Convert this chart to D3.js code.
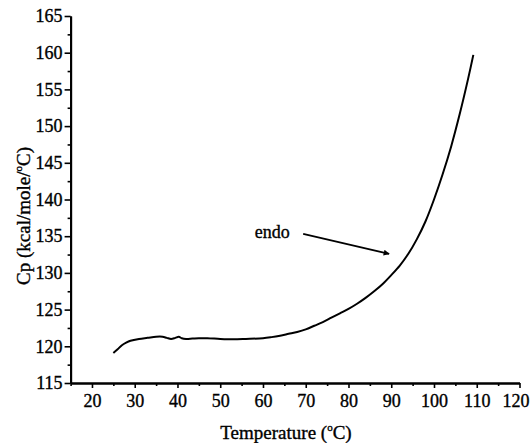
<!DOCTYPE html>
<html><head><meta charset="utf-8">
<script src="https://cdn.jsdelivr.net/npm/d3@7"></script>
<style>body{margin:0;background:#fff}svg{display:block}text{font-family:"Liberation Serif","Times New Roman",serif;fill:#000;stroke:#000;stroke-width:0.35px}</style>
</head><body><svg id="c" width="530" height="443"></svg>
<script>
const temperature = [25,26,27,28,29,31,33,35,36.5,37.5,38.5,39.5,40.3,41,42,43.5,45,47,50,53,56,60,62,64,66,68,70,72,74,76,78,80,82,84,86,88,90,92,94,96,98,100,102,104,106,108,109.2];
const cp = [119.1,119.6,120.15,120.5,120.75,121.0,121.15,121.3,121.3,121.15,121.0,121.15,121.3,121.1,121.0,121.05,121.1,121.1,121.0,120.95,121.0,121.1,121.25,121.45,121.7,121.95,122.3,122.8,123.3,123.9,124.5,125.1,125.8,126.6,127.5,128.5,129.7,131.0,132.6,134.6,137.0,140.0,143.4,147.2,151.6,156.5,159.7];
const xTicks = [20,30,40,50,60,70,80,90,100,110,120];
const yTicks = [115,120,125,130,135,140,145,150,155,160,165];
const xMinor = [15,25,35,45,55,65,75,85,95,105,115];
const yMinor = [117.5,122.5,127.5,132.5,137.5,142.5,147.5,152.5,157.5,162.5];
const annotation = {text:"endo", textX:58.1, textY:134.75, fromX:69.4, fromY:135.3, toX:89.5, toY:132.6};

const svg = d3.select("#c");
const x = d3.scaleLinear().domain([15,120]).range([70.6,519.5]);
const y = d3.scaleLinear().domain([115,165]).range([383,16]);

const defs = svg.append("defs");
defs.append("marker").attr("id","ah").attr("viewBox","0 0 10 10").attr("refX",9).attr("refY",5)
  .attr("markerWidth",9).attr("markerHeight",6).attr("markerUnits","userSpaceOnUse").attr("orient","auto")
  .append("path").attr("d","M0,0L10,5L0,10z").attr("fill","#000");

// x axis
const gx = svg.append("g").attr("transform",`translate(0,${y(115)})`)
  .call(d3.axisBottom(x).tickValues(xTicks).tickSize(5).tickSizeOuter(0).tickPadding(5).tickFormat(d3.format("d")));
gx.append("g").call(d3.axisBottom(x).tickValues(xMinor).tickSize(3).tickSizeOuter(0).tickFormat(""));
// y axis
const gy = svg.append("g").attr("transform",`translate(${x(15)},0)`)
  .call(d3.axisLeft(y).tickValues(yTicks).tickSize(6).tickSizeOuter(0).tickPadding(2).tickFormat(d3.format("d")));
gy.append("g").call(d3.axisLeft(y).tickValues(yMinor).tickSize(3).tickSizeOuter(0).tickFormat(""));

svg.selectAll(".domain").attr("stroke","#000").attr("stroke-width",2);
svg.selectAll(".tick line").attr("stroke","#000").attr("stroke-width",1.6);
svg.selectAll(".tick text").attr("font-size",18).attr("font-family","Liberation Serif");
gx.selectAll(".tick text").attr("dy","0.75em").attr("dx",d=>d===120?-4:0);

// axis titles
const xt = svg.append("text").attr("x",286).attr("y",439).attr("text-anchor","middle").attr("font-size",19);
xt.append("tspan").text("Temperature (");
xt.append("tspan").text("o").attr("font-size",11).attr("dy",-8);
xt.append("tspan").text("C)").attr("dy",8);

const yt = svg.append("text").attr("transform","translate(30,216) rotate(-90)").attr("text-anchor","middle").attr("font-size",19);
yt.append("tspan").text("Cp (kcal/mole/");
yt.append("tspan").text("o").attr("font-size",11).attr("dy",-8);
yt.append("tspan").text("C)").attr("dy",8);

// data line
const pts = temperature.map((t,i)=>[t,cp[i]]);
svg.append("path").datum(pts).attr("fill","none").attr("stroke","#000").attr("stroke-width",2)
  .attr("d",d3.line().x(d=>x(d[0])).y(d=>y(d[1])).curve(d3.curveCatmullRom));

// annotation
svg.append("text").attr("x",x(annotation.textX)).attr("y",y(annotation.textY)).attr("font-size",18).text(annotation.text);
svg.append("line").attr("x1",x(annotation.fromX)).attr("y1",y(annotation.fromY))
  .attr("x2",x(annotation.toX)).attr("y2",y(annotation.toY))
  .attr("stroke","#000").attr("stroke-width",1.8).attr("marker-end","url(#ah)");
</script></body></html>
